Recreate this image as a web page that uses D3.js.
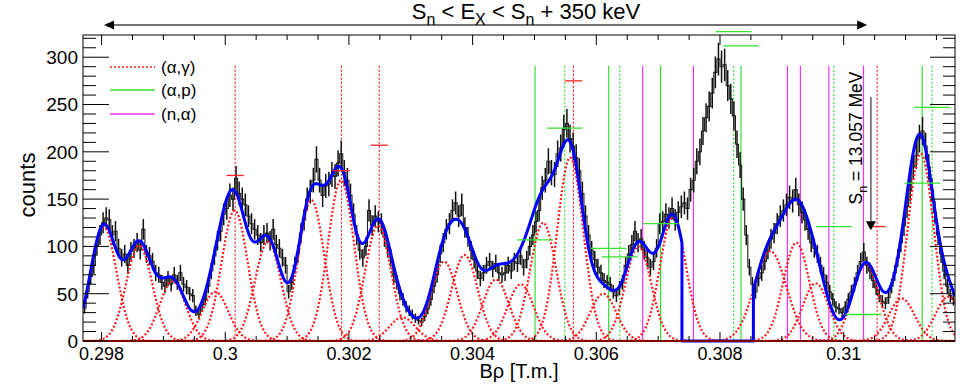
<!DOCTYPE html>
<html>
<head>
<meta charset="utf-8">
<title>Brho spectrum</title>
<script src="https://d3js.org/d3.v7.min.js"></script>
<style>
body { margin: 0; background: #fff; }
svg { display: block; font-family: "Liberation Sans", Arial, sans-serif; }
</style>
</head>
<body>
<script>
// measured histogram, bins of 0.00005 T.m. starting at 0.2977
var binStart = 0.2977;
var binWidth = 0.00005;
var counts = [
  35, 52, 68, 80, 100, 112,
  125, 130, 128, 112, 116, 98, 88, 92, 80, 95,
  98, 104, 96, 118, 92, 90, 84, 72, 70, 62,
  58, 66, 60, 70, 62, 72, 60, 57, 50, 48,
  32, 28, 38, 44, 58, 74, 90, 106, 116, 134,
  140, 154, 150, 172, 156, 150, 144, 132, 124, 118,
  112, 104, 112, 114, 106, 118, 102, 98, 88, 80,
  52, 62, 80, 92, 114, 128, 150, 158, 170, 192,
  170, 154, 164, 166, 176, 174, 188, 198, 178, 170,
  154, 134, 112, 96, 88, 100, 138, 122, 132, 126,
  124, 110, 98, 88, 70, 62, 50, 44, 36, 32,
  28, 24, 22, 20, 26, 34, 44, 58, 70, 92,
  104, 118, 124, 138, 146, 132, 144, 120, 110, 96,
  86, 74, 66, 72, 80, 84, 76, 82, 72, 70,
  72, 80, 74, 84, 82, 90, 78, 86, 100, 112,
  126, 138, 162, 170, 190, 178, 176, 198, 204, 224,
  230, 214, 206, 194, 180, 156, 132, 112, 96, 86,
  78, 72, 64, 62, 60, 52, 48, 56, 62, 80,
  92, 102, 116, 104, 108, 96, 88, 78, 84, 98,
  124, 126, 134, 130, 140, 128, 136, 142, 146, 140,
  160, 170, 190, 200, 222, 236, 248, 262, 284, 298,
  290, 292, 270, 256, 238, 208, 186, 150, 112, 78,
  60, 52, 66, 72, 84, 96, 108, 114, 124, 132,
  138, 144, 152, 148, 160, 144, 136, 128, 118, 104,
  98, 92, 80, 70, 62, 52, 44, 36, 34, 30,
  36, 44, 52, 60, 72, 84, 94, 80, 74, 64,
  56, 48, 42, 40, 46, 58, 72, 88, 104, 122,
  142, 160, 184, 196, 214, 222, 206, 184, 160, 136,
  112, 92, 74, 58, 48, 44
];

// fitted gaussian components
var peakPos = [0.298032, 0.298608, 0.299149, 0.299838, 0.300152, 0.300691, 0.301392,
  0.301872, 0.302471, 0.302864, 0.303539, 0.303871, 0.304375, 0.304777, 0.305141,
  0.305578, 0.306112, 0.306679, 0.307240, 0.308814, 0.309235, 0.309547, 0.310356,
  0.310938, 0.311246, 0.311694];
var peakAmp = [121, 101, 63, 52, 138, 105, 149, 170, 122, 25, 84, 91, 65, 60, 125,
  194, 50, 100, 131, 95, 104, 61, 82, 45, 198, 47];
var peakSigma = [0.00021, 0.00021, 0.00021, 0.00021, 0.00021, 0.00021, 0.00021,
  0.00021, 0.00021, 0.00021, 0.00021, 0.00021, 0.00021, 0.00021, 0.00021,
  0.00021, 0.00021, 0.00021, 0.00021, 0.00026, 0.00021, 0.00021, 0.00021,
  0.00021, 0.00021, 0.00021];
// region left out of the total fit
var fitGap = [0.307385, 0.30854];

// level positions
var agLines = [0.30016, 0.30188, 0.30249, 0.30563, 0.31054];
var apLines = [0.30501, 0.30620, 0.30704, 0.30834, 0.31032, 0.31127];
var apDotLines = [0.30549, 0.30638, 0.30822, 0.30984, 0.31143];
var naLines = [0.30675, 0.30757, 0.30909, 0.30930, 0.30976, 0.31032];
var levelTop = 291;

var agMarkX = [0.30016, 0.30188, 0.30249, 0.30563, 0.31054];
var agMarkY = [175, 180, 207, 275, 121];
var apMarkX = [0.30501, 0.30549, 0.30620, 0.30638, 0.30704, 0.30822, 0.30834,
  0.30984, 0.31032, 0.31127, 0.31143];
var apMarkY = [107, 225, 98, 89, 124, 327, 312, 121, 28, 167, 247];

var rangeArrow = [0.29804, 0.31038];
var snArrow = {x: 0.31044, from: 258, to: 117};

var yTicks = [0, 50, 100, 150, 200, 250, 300];
var xTicks = [0.298, 0.300, 0.302, 0.304, 0.306, 0.308, 0.310];
var xTickLabels = ["0.298", "0.3", "0.302", "0.304", "0.306", "0.308", "0.31"];
var legendNames = ["(\u03b1,\u03b3)", "(\u03b1,p)", "(n,\u03b1)"];

var W = 977, H = 386;
var padL = 83, padR = 955, padT = 35, padB = 341;

var x = d3.scaleLinear().domain([0.2977, 0.3118]).range([padL, padR]);
var y = d3.scaleLinear().domain([0, 323.5]).range([padB, padT]);

var svg = d3.select("body").append("svg")
  .attr("width", W).attr("height", H);

svg.append("defs").append("clipPath").attr("id", "plot")
  .append("rect")
  .attr("x", padL).attr("y", padT)
  .attr("width", padR - padL).attr("height", padB - padT + 2);

var plot = svg.append("g").attr("clip-path", "url(#plot)");

function vlines(vals, color, dash, width) {
  plot.selectAll(null).data(vals).enter().append("line")
    .attr("x1", d => x(d)).attr("x2", d => x(d))
    .attr("y1", y(levelTop)).attr("y2", padB)
    .attr("stroke", color).attr("stroke-width", width)
    .attr("stroke-dasharray", dash);
}
vlines(apLines, "#33e033", null, 1.2);
vlines(apDotLines, "#33e033", "2,2", 1.2);
vlines(naLines, "#f035f0", null, 1.2);
vlines(agLines, "#ff2020", "2,2", 1.2);

// data: step outline + error bars
var bins = counts.map((c, i) => ({x0: binStart + i * binWidth, x1: binStart + (i + 1) * binWidth, c: c}));
var stepLine = d3.line().curve(d3.curveStep)
  .x(d => x((d.x0 + d.x1) / 2)).y(d => y(d.c));
plot.append("path").attr("d", stepLine(bins))
  .attr("fill", "none").attr("stroke", "#222").attr("stroke-width", 1.1);
plot.selectAll(null).data(bins).enter().append("line")
  .attr("x1", d => x((d.x0 + d.x1) / 2)).attr("x2", d => x((d.x0 + d.x1) / 2))
  .attr("y1", d => y(d.c - Math.sqrt(d.c))).attr("y2", d => y(d.c + Math.sqrt(d.c)))
  .attr("stroke", "#111").attr("stroke-width", 1.5);

function gauss(v, i) {
  var t = (v - peakPos[i]) / peakSigma[i];
  return peakAmp[i] * Math.exp(-0.5 * t * t);
}
function total(v) {
  var s = 0;
  for (var i = 0; i < peakPos.length; i++) s += gauss(v, i);
  return s;
}

var line = d3.line().x(d => x(d[0])).y(d => y(d[1]));

// components
peakPos.forEach(function(c, i) {
  var lo = Math.max(0.2977, c - 4.5 * peakSigma[i]);
  var hi = Math.min(0.3118, c + 4.5 * peakSigma[i]);
  var pts = d3.range(0, 121).map(k => {
    var v = lo + (hi - lo) * k / 120;
    return [v, gauss(v, i)];
  });
  plot.append("path").attr("d", line(pts))
    .attr("fill", "none").attr("stroke", "#ff1a1a")
    .attr("stroke-width", 2.2).attr("stroke-dasharray", "2,2");
});

// total fit
var fitPts = [];
var step = 0.000005;
for (var v = 0.2977; v < fitGap[0]; v += step) fitPts.push([v, total(v)]);
fitPts.push([fitGap[0], total(fitGap[0])], [fitGap[0], 0], [fitGap[1], 0], [fitGap[1], total(fitGap[1])]);
for (var v = fitGap[1] + step; v <= 0.3118; v += step) fitPts.push([v, total(v)]);
plot.append("path").attr("d", line(fitPts))
  .attr("fill", "none").attr("stroke", "#0000ff").attr("stroke-width", 3)
  .attr("stroke-linejoin", "round");

// zero line
svg.append("line")
  .attr("x1", padL).attr("x2", padR).attr("y1", y(0)).attr("y2", y(0))
  .attr("stroke", "#ff0000").attr("stroke-width", 2);

// level markers
svg.selectAll(null).data(agMarkX).enter().append("line")
  .attr("x1", d => x(d - 0.00014)).attr("x2", d => x(d + 0.00014))
  .attr("y1", (d, i) => y(agMarkY[i])).attr("y2", (d, i) => y(agMarkY[i]))
  .attr("stroke", "#ff2020").attr("stroke-width", 1.3);
svg.selectAll(null).data(apMarkX).enter().append("line")
  .attr("x1", d => x(d - 0.00029)).attr("x2", d => x(d + 0.00029))
  .attr("y1", (d, i) => y(apMarkY[i])).attr("y2", (d, i) => y(apMarkY[i]))
  .attr("stroke", "#33e033").attr("stroke-width", 1.3);

// frame + ticks
svg.append("rect").attr("x", padL).attr("y", padT)
  .attr("width", padR - padL).attr("height", padB - padT)
  .attr("fill", "none").attr("stroke", "#000").attr("stroke-width", 1);

var ax = svg.append("g").attr("stroke", "#000").attr("stroke-width", 1);
d3.range(0, 28).forEach(function(k) {
  var v = 0.298 + k * 0.0005;
  var px = x(v), major = k % 4 == 0;
  ax.append("line").attr("x1", px).attr("x2", px).attr("y1", padT).attr("y2", padT + (major ? 10 : 5));
  ax.append("line").attr("x1", px).attr("x2", px).attr("y1", padB).attr("y2", padB - (major ? 9 : 5));
});
d3.range(0, 33).forEach(function(k) {
  var py = y(k * 10), major = k % 5 == 0;
  ax.append("line").attr("x1", padL).attr("x2", padL + (major ? 26 : 13)).attr("y1", py).attr("y2", py);
  ax.append("line").attr("x1", padR).attr("x2", padR - (major ? 25 : 12)).attr("y1", py).attr("y2", py);
});

svg.selectAll(null).data(yTicks).enter().append("text")
  .attr("x", 78).attr("y", d => y(d)).attr("dy", "0.36em")
  .attr("text-anchor", "end").attr("font-size", 19).text(d => d);
svg.selectAll(null).data(xTicks).enter().append("text")
  .attr("x", d => x(d)).attr("y", 360)
  .attr("text-anchor", "middle").attr("font-size", 18).text((d, i) => xTickLabels[i]);

svg.append("text").attr("x", (padL + padR) / 2).attr("y", 378)
  .attr("text-anchor", "middle").attr("font-size", 20).text("B\u03c1 [T.m.]");
svg.append("text").attr("transform", "translate(35,185) rotate(-90)")
  .attr("text-anchor", "middle").attr("font-size", 22).text("counts");

// legend
var legColors = ["#ff2020", "#33e033", "#f035f0"];
var legY = [67, 90, 114];
legendNames.forEach(function(n, i) {
  svg.append("line").attr("x1", 110).attr("x2", 155).attr("y1", legY[i]).attr("y2", legY[i])
    .attr("stroke", legColors[i]).attr("stroke-width", 1.3)
    .attr("stroke-dasharray", i == 0 ? "2,2" : null);
  svg.append("text").attr("x", 161).attr("y", legY[i] + 6)
    .attr("font-size", 17).text(n);
});

// range arrow and title
var ay = 25;
svg.append("line").attr("x1", x(rangeArrow[0]) + 6).attr("x2", x(rangeArrow[1]) - 6)
  .attr("y1", ay).attr("y2", ay).attr("stroke", "#444").attr("stroke-width", 1.5);
svg.append("path").attr("fill", "#000")
  .attr("d", "M" + x(rangeArrow[0]) + "," + ay + "l10,-4.5v9z");
svg.append("path").attr("fill", "#000")
  .attr("d", "M" + x(rangeArrow[1]) + "," + ay + "l-10,-4.5v9z");

var title = svg.append("text").attr("x", 526).attr("y", 18.5)
  .attr("text-anchor", "middle").attr("font-size", 22);
title.append("tspan").text("S");
title.append("tspan").attr("dy", 6).attr("font-size", 16).text("n");
title.append("tspan").attr("dy", -6).text(" < E");
title.append("tspan").attr("dy", 6).attr("font-size", 16).text("X");
title.append("tspan").attr("dy", -6).text(" < S");
title.append("tspan").attr("dy", 6).attr("font-size", 16).text("n");
title.append("tspan").attr("dy", -6).text(" + 350 keV");

// separation energy
var sx = x(snArrow.x);
svg.append("line").attr("x1", sx).attr("x2", sx)
  .attr("y1", y(snArrow.from)).attr("y2", y(snArrow.to) - 8)
  .attr("stroke", "#666").attr("stroke-width", 1.6);
svg.append("path").attr("fill", "#000")
  .attr("d", "M" + sx + "," + y(snArrow.to) + "l-5,-9h10z");
var sn = svg.append("text").attr("transform", "translate(862,138) rotate(-90)")
  .attr("text-anchor", "middle").attr("font-size", 17.5);
sn.append("tspan").text("S");
sn.append("tspan").attr("dy", 5).attr("font-size", 12.5).text("n");
sn.append("tspan").attr("dy", -5).text(" = 13.057 MeV");
</script>
</body>
</html>
